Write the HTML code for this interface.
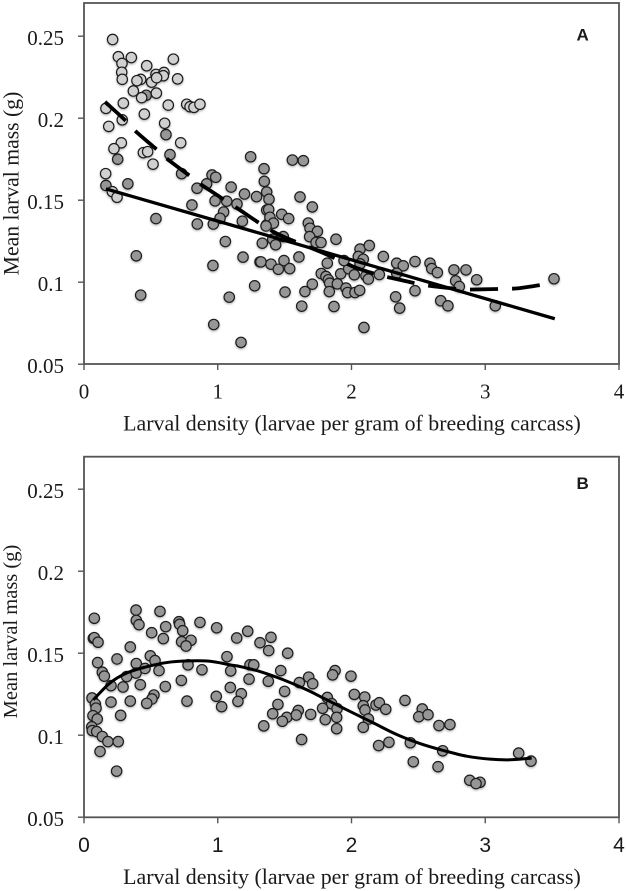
<!DOCTYPE html>
<html lang="en">
<head>
<meta charset="utf-8">
<title>Larval mass vs density</title>
<style>
html,body{margin:0;padding:0;background:#fff;}
svg{display:block;}
text{font-family:"Liberation Serif",serif;fill:#1a1a1a;}
.letter{font-family:"Liberation Sans",sans-serif;font-weight:bold;}
</style>
</head>
<body>
<svg id="chart" xmlns="http://www.w3.org/2000/svg" width="626" height="891" viewBox="0 0 626 891">
<defs>
<filter id="soft" x="-50%" y="-50%" width="200%" height="200%">
<feDropShadow dx="0" dy="1.2" stdDeviation="1.1" flood-color="#000" flood-opacity="0.3"/>
</filter>
</defs>
<text x="352" y="430.5" font-size="21.9" text-anchor="middle">Larval density (larvae per gram of breeding carcass)</text>
<text transform="translate(18.5,183.5) rotate(-90)" font-size="21.7" text-anchor="middle">Mean larval mass (g)</text>
<text class="letter" x="582.7" y="40.7" font-size="17" text-anchor="middle">A</text>
<text x="352" y="884" font-size="21.9" text-anchor="middle">Larval density (larvae per gram of breeding carcass)</text>
<text transform="translate(17,631.5) rotate(-90)" font-size="20.5" text-anchor="middle">Mean larval mass (g)</text>
<text class="letter" x="582.7" y="489" font-size="17" text-anchor="middle">B</text>
</svg>
<script>
const xTickValues = [0, 1, 2, 3, 4];
const xTickLabels = ["0", "1", "2", "3", "4"];
const yTickValues = [0.05, 0.1, 0.15, 0.2, 0.25];
const yTickLabels = ["0.05", "0.1", "0.15", "0.2", "0.25"];

const aLightX = [.214,.257,.354,.284,.469,.668,.282,.286,.424,.396,.538,.598,.593,.506,.543,.70,.369,.431,.541,.294,.164,.286,.451,.630,.768,.793,.822,.867,.185,.603,.279,.224,.444,.476,.723,.516,.162,.212,.247];
const aLightY = [.248,.2375,.237,.2334,.232,.236,.228,.2237,.2237,.2229,.2267,.2279,.2259,.222,.2247,.224,.2166,.2125,.2153,.2092,.206,.199,.2025,.208,.2085,.207,.2066,.2085,.195,.1969,.185,.1814,.179,.1796,.185,.172,.1662,.1552,.1518];

const aDarkX = [.465,.252,.613,.643,.730,.164,.328,1.246,1.346,1.348,.957,.985,.917,.845,1.10,1.20,1.29,1.366,.98,1.067,1.144,.807,1.044,1.017,.967,.847,.538,1.184,1.366,1.366,1.333,1.057,1.189,1.316,.964,.391,.424,1.276,1.086,.97,1.174,1.558,1.64,1.615,1.383,1.707,1.381,1.478,1.53,1.39,1.416,1.361,1.677,1.69,1.745,1.687,1.735,1.772,1.884,1.49,1.411,1.433,1.607,1.323,1.398,1.453,1.495,1.538,1.819,1.774,1.809,1.827,1.837,1.707,1.652,1.503,1.834,1.628,1.869,1.894,1.919,1.979,1.944,2.021,1.959,1.971,2.026,2.061,2.108,2.126,2.208,2.064,2.133,2.051,2.088,2.064,2.238,2.338,2.387,2.475,2.338,2.475,2.33,2.36,2.093,2.587,2.6,2.642,2.766,2.856,2.779,2.806,2.936,3.514,2.667,2.721,3.075];
const aDarkY = [.214,.175,.19,.1778,.1662,.159,.16,.1765,.1692,.1615,.1654,.164,.16,.1573,.158,.1538,.1522,.155,.1496,.1494,.1477,.1471,.1428,.139,.1355,.1355,.1388,.1372,.144,.135,.1238,.1248,.1153,.1124,.1102,.1161,.0921,.0978,.0909,.0742,.0633,.1745,.1741,.152,.1506,.1459,.1443,.1414,.1388,.1396,.136,.1343,.1361,.1329,.131,.1278,.1242,.1242,.1262,.1278,.1262,.1228,.1154,.1124,.111,.1079,.1132,.1083,.1116,.1053,.1035,.1015,.0994,.0988,.0943,.094,.0943,.0854,.0852,.099,.1051,.1082,.1132,.1045,.0964,.0937,.0937,.095,.1039,.1019,.1047,.1202,.1224,.1157,.114,.1112,.1157,.1116,.11,.1126,.1055,.0948,.0911,.0842,.0724,.1116,.1083,.1059,.1075,.1075,.1008,.0974,.1015,.1021,.0887,.0856,.0856];

const aSolidX = [.164, 1.316, 3.52];
const aSolidY = [.1569, .1298, .0777];

const aDashX = [.157,.319,.389,.548,.626,.798,.88,1.129,1.353,1.49,1.787,2.01,2.2,2.36,2.51,2.624,2.83,2.94,3.155,3.26,3.47];
const aDashY = [.21,.1979,.1918,.1806,.1749,.1644,.1593,.146,.1338,.1278,.1179,.1096,.1045,.1015,.0988,.0974,.0957,.0956,.096,.0964,.099];

const bPointX = [.077,.389,.568,.391,.411,.611,.506,.71,.715,.738,.867,.992,.593,.73,.8,.763,1.142,1.224,.07,.077,.105,.346,1.069,.496,.531,.247,.391,.102,.137,.152,.456,.561,.319,.389,.778,.882,1.097,1.241,1.234,.728,1.094,.202,.292,.421,.608,1.176,1.151,.989,1.029,.523,.508,.469,.346,.202,.77,.06,.085,.09,.274,.067,.099,.058,.062,.095,.137,.179,.256,.12,.244,1.398,1.316,1.381,1.523,1.269,1.471,1.378,1.61,1.68,1.71,1.877,1.859,1.996,1.5,1.45,1.411,1.516,1.483,1.602,1.587,1.695,1.344,1.627,1.819,1.852,1.784,1.892,1.889,1.804,1.889,2.021,2.099,2.088,2.101,2.126,2.088,2.183,2.208,2.256,2.4,2.529,2.503,2.572,2.654,2.736,2.203,2.28,2.44,2.682,2.462,2.647,2.884,2.961,2.931,3.25,3.342];
const bPointY = [.1713,.1763,.1755,.17,.1674,.1662,.1625,.1692,.1676,.1637,.1688,.1655,.1589,.157,.1579,.1544,.1593,.1634,.1591,.1595,.1567,.1538,.1479,.1484,.1455,.1465,.1437,.1443,.1384,.136,.1407,.1394,.1358,.1379,.1429,.1399,.1392,.1429,.1342,.1334,.1291,.1302,.1294,.1308,.1297,.1253,.1206,.1237,.1174,.1245,.1221,.1194,.1208,.1202,.1208,.1227,.119,.1165,.1121,.1119,.1099,.1051,.1028,.1022,.0992,.0961,.0961,.0901,.0781,.1597,.1564,.1516,.15,.1429,.1394,.1329,.1321,.1354,.1314,.1394,.1368,.136,.1267,.1188,.1131,.1109,.1085,.1151,.1123,.1127,.1057,.0974,.123,.1192,.1164,.1162,.1109,.1095,.104,.1249,.1233,.118,.1154,.1099,.1048,.1184,.1198,.1158,.1212,.116,.1113,.1125,.1059,.1065,.0937,.0957,.0954,.0905,.0838,.0808,.0725,.0713,.0705,.0891,.0842];

const bCurveX = [.07,.194,.319,.456,.618,.778,.942,1.092,1.166,1.316,1.49,1.665,1.814,1.989,2.163,2.338,2.512,2.686,2.861,3.036,3.185,3.347];
const bCurveY = [.1216,.1318,.1379,.1415,.1443,.1453,.1451,.1429,.1419,.1388,.1338,.1277,.1216,.1145,.1075,.1004,.0949,.0907,.0872,.0854,.085,.086];

const svg = document.getElementById('chart');
const NS = 'http://www.w3.org/2000/svg';
const LEFT = 84, RIGHT = 619, UNIT_X = (RIGHT - LEFT) / 4;

function mk(tag, attrs, parent) {
  const el = document.createElementNS(NS, tag);
  for (const k in attrs) el.setAttribute(k, attrs[k]);
  (parent || svg).appendChild(el);
  return el;
}
function xScale(v) { return LEFT + v * UNIT_X; }
function makeYScale(base, perUnit) { return function (v) { return base - (v - 0.05) * perUnit; }; }

function smoothPath(xs, ys, sx, sy) {
  const px = xs.map(sx), py = ys.map(sy);
  let d = 'M' + px[0] + ' ' + py[0];
  for (let i = 0; i < px.length - 1; i++) {
    const i0 = Math.max(i - 1, 0), i3 = Math.min(i + 2, px.length - 1);
    const c1x = px[i] + (px[i + 1] - px[i0]) / 6, c1y = py[i] + (py[i + 1] - py[i0]) / 6;
    const c2x = px[i + 1] - (px[i3] - px[i]) / 6, c2y = py[i + 1] - (py[i3] - py[i]) / 6;
    d += 'C' + c1x + ' ' + c1y + ' ' + c2x + ' ' + c2y + ' ' + px[i + 1] + ' ' + py[i + 1];
  }
  return d;
}

function drawFrame(prefix, top, bottom, sy, xLabelBaseline, xLabelFont) {
  const frame = mk('rect', { x: LEFT, y: top, width: RIGHT - LEFT, height: bottom - top, fill: 'none', stroke: '#555', 'stroke-width': 1.8 });
  
  
  xTickValues.forEach(function (v, i) {
    const tick = mk('line', { x1: xScale(v), x2: xScale(v), y1: bottom, y2: bottom + 6, stroke: '#555', 'stroke-width': 1.4 });
    
    
    const label = mk('text', { x: xScale(v), y: xLabelBaseline, 'font-size': 21, 'text-anchor': 'middle', style: 'font-family:' + xLabelFont });
    label.textContent = xTickLabels[i];
    
    
  });
  yTickValues.forEach(function (v, i) {
    const tick = mk('line', { x1: LEFT - 6, x2: LEFT, y1: sy(v), y2: sy(v), stroke: '#555', 'stroke-width': 1.4 });
    
    
    const label = mk('text', { x: 64, y: sy(v) + 9, 'font-size': 21, 'text-anchor': 'end' });
    label.textContent = yTickLabels[i];
    
    
  });
}

function drawPoints(prefix, xs, ys, fill, sy) {
  const group = mk('g', { filter: 'url(#soft)' });
  
  
  xs.forEach(function (x, i) {
    const c = mk('circle', { cx: xScale(x), cy: sy(ys[i]), r: 5.2, fill: fill, stroke: '#1c1c1c', 'stroke-width': 1.2 }, group);
    
    
  });
}

const yA = makeYScale(364.2, 1640);
const yB = makeYScale(817.2, 1640);
const SERIF = '"Liberation Serif",serif';
const SANS = '"Liberation Sans",sans-serif';

drawFrame('panel-a', 3, 364, yA, 398.3, SERIF);
drawPoints('panel-a-dark', aDarkX, aDarkY, '#969696', yA);
drawPoints('panel-a-light', aLightX, aLightY, '#d0d0d0', yA);

const aDash = mk('path', { d: smoothPath(aDashX, aDashY, xScale, yA), fill: 'none', stroke: '#000', 'stroke-width': 3.8, 'stroke-dasharray': '28 14' });



const aSolid = mk('path', { d: smoothPath(aSolidX, aSolidY, xScale, yA), fill: 'none', stroke: '#000', 'stroke-width': 3.3 });



drawFrame('panel-b', 456.7, 817.3, yB, 852, SANS);
drawPoints('panel-b', bPointX, bPointY, '#969696', yB);

const bCurve = mk('path', { d: smoothPath(bCurveX, bCurveY, xScale, yB), fill: 'none', stroke: '#000', 'stroke-width': 3 });


</script>
</body>
</html>
